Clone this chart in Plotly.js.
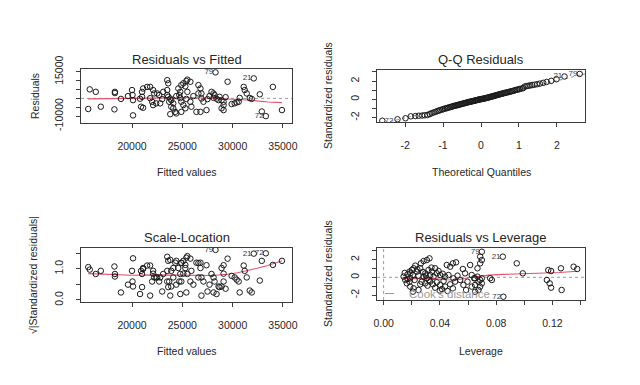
<!DOCTYPE html>
<html><head><meta charset="utf-8">
<script src="https://cdn.plot.ly/plotly-3.0.1.min.js"></script>
<style>html,body{margin:0;padding:0;background:#fff;}#chart{width:640px;height:385px;}</style>
</head><body><div id="chart"></div>
<script>
// ---------- data ----------
const fittedValues = [15800,16400,15650,16900,18300,18300,18250,18900,20100,20000,20050,20100,21000,21100,21500,21800,22100,22200,20800,21000,20900,21100,21800,22000,22100,22400,22800,22500,22700,23100,23500,23600,23500,23600,23500,23800,23900,23700,23900,24100,24300,24400,24100,24600,24800,24700,24900,25100,25400,25500,24800,24900,25100,25300,24900,25800,25300,25500,25400,25800,25900,26600,26800,26600,26900,26900,27100,26400,26800,27900,28100,28200,28100,28400,28600,28700,28900,29100,29100,28900,28300,29500,30200,30400,30600,30700,31100,31200,31400,31700,31900,32100,32700,34000,32900,33300,34900,27400,23800,29100,19600,23000,24400,26100,27500,27700,29300,29900];
const residuals = [5100,3700,-6000,-4700,3700,3000,-6200,-300,-9600,4700,1900,-1000,3700,5600,6500,6500,4700,2800,-200,900,-4700,-5300,100,-1900,-3800,-2800,-2800,2800,1900,3700,1900,900,10300,8500,4700,-100,-1000,-1900,-4700,-5600,-7600,-8500,-2800,5600,3700,1900,7500,8500,9800,10600,200,-1900,-3800,-5600,-7600,9400,6800,3700,-300,-1900,-4700,7500,5600,2800,2800,-100,-1900,-7600,-7600,3700,2800,1900,300,-200,-1000,900,-1000,-1900,-3800,-5600,14700,9400,-2800,-2300,-1900,300,6500,4700,2800,200,-300,11300,2300,6500,-7400,-10000,-6600,-6600,-8900,-6600,1300,-400,1300,1300,-400,1300,700,-3200];
const sqrtAbsStdResid = [0.97,0.83,1.05,0.93,0.83,0.75,1.07,0.24,1.33,0.93,0.59,0.43,0.83,1.02,1.10,1.10,0.93,0.72,0.19,0.41,0.93,0.99,0.14,0.59,0.84,0.72,0.72,0.72,0.59,0.83,0.59,0.41,1.38,1.25,0.93,0.14,0.43,0.59,0.93,1.02,1.19,1.25,0.72,1.02,0.83,0.59,1.18,1.25,1.35,1.40,0.19,0.59,0.84,1.02,1.19,1.32,1.12,0.83,0.24,0.59,0.93,1.18,1.02,0.72,0.72,0.14,0.59,1.19,1.19,0.83,0.72,0.59,0.24,0.19,0.43,0.41,0.43,0.59,0.84,1.02,1.60,1.32,0.72,0.65,0.59,0.24,1.10,0.93,0.72,0.30,0.24,1.48,0.62,1.12,1.25,1.49,1.25,1.11,1.28,1.11,0.49,0.27,0.49,0.49,0.27,0.49,0.36,0.77];
const labelIds = ["79","21","72"];
const labelIndexFitted = [80,91,95];

const rvfSmoothX = [15650,18000,20000,22000,24000,25500,27000,28500,30000,31500,32500,33500,34900];
const rvfSmoothY = [-300,-200,-200,0,300,500,300,0,-500,-900,-1500,-2000,-2400];
const slSmoothX = [15650,18000,20000,22000,24000,26000,28000,29500,30500,32000,33500,34900];
const slSmoothY = [0.84,0.81,0.79,0.80,0.80,0.79,0.78,0.82,0.87,0.98,1.10,1.25];

const qqTheoretical = [-2.60,-2.20,-1.99,-1.85,-1.73,-1.64,-1.55,-1.48,-1.41,-1.35,-1.30,-1.25,-1.20,-1.15,-1.11,-1.07,-1.02,-0.99,-0.95,-0.91,-0.88,-0.85,-0.81,-0.78,-0.75,-0.72,-0.69,-0.66,-0.63,-0.60,-0.58,-0.55,-0.52,-0.50,-0.47,-0.44,-0.42,-0.39,-0.37,-0.34,-0.32,-0.29,-0.27,-0.25,-0.22,-0.20,-0.17,-0.15,-0.13,-0.10,-0.08,-0.06,-0.03,-0.01,
0.01,0.03,0.06,0.08,0.10,0.13,0.15,0.17,0.20,0.22,0.25,0.27,0.29,0.32,0.34,0.37,0.39,0.42,0.44,0.47,0.50,0.52,0.55,0.58,0.60,0.63,0.66,0.69,0.72,0.75,0.78,0.81,0.85,0.88,0.91,0.95,0.99,1.02,1.07,1.11,1.15,1.20,1.25,1.30,1.35,1.41,1.48,1.55,1.64,1.73,1.85,1.99,2.20,2.60];
const qqSample = [-2.35,-2.19,-2.08,-1.87,-1.84,-1.80,-1.78,-1.75,-1.72,-1.62,-1.52,-1.45,-1.38,-1.30,-1.24,-1.18,-1.12,-1.07,-1.02,-0.98,-0.94,-0.90,-0.86,-0.82,-0.78,-0.74,-0.71,-0.68,-0.65,-0.62,-0.59,-0.56,-0.53,-0.50,-0.47,-0.44,-0.41,-0.38,-0.35,-0.33,-0.30,-0.28,-0.25,-0.23,-0.21,-0.18,-0.16,-0.13,-0.11,-0.08,-0.06,-0.03,-0.01,0.01,
0.02,0.04,0.06,0.08,0.10,0.13,0.15,0.18,0.20,0.23,0.26,0.28,0.31,0.34,0.37,0.40,0.43,0.46,0.49,0.52,0.55,0.58,0.61,0.64,0.67,0.70,0.73,0.76,0.79,0.82,0.85,0.89,0.93,0.97,1.01,1.05,1.09,1.13,1.18,1.22,1.40,1.44,1.48,1.52,1.56,1.60,1.65,1.72,1.80,1.90,2.02,2.20,2.50,2.78];
const qqLabelIndex = [107,106,0];
const qqLineX = [-3,3];
const qqLineY = [-3.05,3.05];

const leverage = [0.0698,0.0847,0.0851,
0.0142,0.0154,0.0165,0.0170,0.0184,0.0189,0.0184,0.0201,0.0208,0.0213,0.0225,0.0236,0.0248,0.0260,0.0265,0.0284,0.0307,0.0326,
0.0189,0.0213,0.0208,0.0248,0.0260,
0.0284,0.0296,0.0307,0.0319,0.0331,0.0343,0.0355,0.0366,0.0378,0.0390,0.0402,
0.0296,0.0312,0.0331,0.0350,0.0366,0.0378,0.0402,0.0414,0.0426,0.0437,0.0454,0.0473,0.0492,0.0508,
0.0449,0.0473,0.0492,0.0515,
0.0437,0.0461,0.0496,0.0525,0.0544,
0.0563,0.0579,0.0567,0.0586,0.0596,
0.0615,0.0626,0.0643,0.0667,0.0626,0.0650,
0.0686,0.0698,0.0686,0.0667,
0.0650,0.0686,0.0698,0.0674,0.0698,0.0686,0.0674,0.0650,
0.0757,0.0769,
0.0946,0.0989,0.117,0.119,0.116,0.118,0.119,0.126,0.1265,0.135,0.1376,
0.015,0.017,0.019,0.022,0.024,0.027,0.028,0.030,0.032,0.034,0.040,0.042];
const levStdResid = [2.89,2.33,-2.19,
0.08,-0.30,-0.68,0.34,0.64,-0.11,-0.49,0.83,0.26,1.02,1.32,0.64,0.19,1.02,1.58,1.84,1.95,2.14,
-1.05,-1.24,-1.62,-1.43,-0.79,
0.08,0.45,-0.11,0.83,0.26,0.64,0.08,1.02,0.45,0.71,0.26,
-0.68,-0.94,-0.49,-0.79,-1.17,-0.56,-0.86,-1.32,-0.41,-1.05,-1.54,-0.79,-1.24,-0.49,
1.39,1.20,1.58,1.69,
0.08,0.26,-0.11,0.19,-0.30,
0.94,0.45,-0.86,-1.43,-0.49,
1.39,0.26,-0.11,0.08,-1.05,-0.86,
2.33,1.95,1.58,1.02,
-0.11,-0.30,-0.11,-0.50,-0.68,-1.06,-1.43,-1.63,
-0.10,-0.30,
1.58,0.45,0.82,0.71,-0.30,-0.68,-1.17,1.02,-1.43,1.20,0.94,
0.50,-0.20,0.45,-0.30,0.90,-0.50,0.60,0.20,-0.30,1.10,-1.50,0.40];
const levLabelIndex = [0,1,2];
const rvlSmoothX = [0.0142,0.025,0.035,0.045,0.052,0.060,0.068,0.075,0.085,0.100,0.115,0.125,0.1376];
const rvlSmoothY = [-0.15,-0.12,-0.15,-0.28,-0.30,-0.05,0.15,0.25,0.33,0.40,0.45,0.55,0.68];

// ---------- styling ----------
const W = 640, H = 385;
const fx = p => p / W;
const fy = p => 1 - p / H;
const FONT = "Liberation Sans, Arial, sans-serif";
const INK = "#262626";
const RED = "#DF536B";
const GREY = "#9a9a9a";

const pts = (x, y, xa, ya) => ({
  type: "scatter", mode: "markers", x: x, y: y, xaxis: xa, yaxis: ya,
  marker: {symbol: "circle-open", size: 5.5, color: "#1a1a1a", line: {width: 1, color: "#1a1a1a"}},
  hoverinfo: "skip", cliponaxis: true
});
const line = (x, y, xa, ya, color, dash) => ({
  type: "scatter", mode: "lines", x: x, y: y, xaxis: xa, yaxis: ya,
  line: {color: color, width: 1.1, dash: dash || "solid"}, hoverinfo: "skip"
});
// pad the label text so the id sits clear of its point, as R's offset does
const padLeft = labelIds.map(s => s + "\u00a0");
const padRight = labelIds.map(s => "\u00a0" + s);
const labels = (x, y, xa, ya, pos) => ({
  type: "scatter", mode: "text", x: x, y: y, xaxis: xa, yaxis: ya,
  text: Array.isArray(pos) ? pos.map((p, i) => p === "middle right" ? padRight[i] : padLeft[i]) : padLeft,
  textposition: pos,
  textfont: {family: FONT, size: 8, color: "#3a3a3a"}, hoverinfo: "skip", cliponaxis: false
});

const pick = (arr, idx) => idx.map(i => arr[i]);

const data = [
  line(rvfSmoothX, rvfSmoothY, "x", "y", RED),
  pts(fittedValues, residuals, "x", "y"),
  labels(pick(fittedValues, labelIndexFitted), pick(residuals, labelIndexFitted), "x", "y", "middle left"),

  line(qqLineX, qqLineY, "x2", "y2", GREY, "dot"),
  pts(qqTheoretical, qqSample, "x2", "y2"),
  labels(pick(qqTheoretical, qqLabelIndex), pick(qqSample, qqLabelIndex), "x2", "y2",
         ["middle left", "middle left", "middle right"]),

  line(slSmoothX, slSmoothY, "x3", "y3", RED),
  pts(fittedValues, sqrtAbsStdResid, "x3", "y3"),
  labels(pick(fittedValues, labelIndexFitted), pick(sqrtAbsStdResid, labelIndexFitted), "x3", "y3", "middle left"),

  line(rvlSmoothX, rvlSmoothY, "x4", "y4", RED),
  pts(leverage, levStdResid, "x4", "y4"),
  labels(pick(leverage, levLabelIndex), pick(levStdResid, levLabelIndex), "x4", "y4", "middle left")
];

const tickFont = {family: FONT, size: 10.5, color: INK};
function ax(domain, range, anchor, tickvals, ticktext, isY) {
  return {
    domain: domain, range: range, anchor: anchor,
    showline: true, mirror: true, linecolor: "#3c3c3c", linewidth: 1,
    ticks: "outside", ticklen: 4, tickwidth: 1, tickcolor: "#3c3c3c",
    tickvals: tickvals, ticktext: ticktext, tickfont: tickFont,
    tickangle: isY ? -90 : 0, ticklabelstandoff: 9,
    showgrid: false, zeroline: false, automargin: false, fixedrange: true
  };
}

const fitTicks = [20000, 25000, 30000, 35000];
const fitText = ["20000", "25000", "30000", "35000"];

const layout = {
  width: W, height: H,
  margin: {l: 0, r: 0, t: 0, b: 0},
  paper_bgcolor: "#ffffff", plot_bgcolor: "#ffffff",
  showlegend: false,
  font: {family: FONT, color: INK},
  xaxis: ax([fx(81), fx(292)], [14930, 35900], "y", fitTicks, fitText, false),
  yaxis: ax([fy(123), fy(69)], [-13900, 16600], "x",
            [-10000, -5000, 0, 5000, 10000, 15000], ["-10000", "", "", "", "", "15000"], true),
  xaxis2: ax([fx(377), fx(585)], [-2.74, 2.74], "y2", [-2, -1, 0, 1, 2], ["-2", "-1", "0", "1", "2"], false),
  yaxis2: ax([fy(122), fy(70)], [-2.49, 3.21], "x2", [-2, -1, 0, 1, 2, 3], ["-2", "", "0", "", "2", ""], true),
  xaxis3: ax([fx(81), fx(292)], [14930, 35900], "y3", fitTicks, fitText, false),
  yaxis3: ax([fy(302), fy(248)], [-0.065, 1.66], "x3", [0, 0.5, 1, 1.5], ["0.0", "", "1.0", ""], true),
  xaxis4: ax([fx(377), fx(585)], [-0.0047, 0.1431], "y4",
             [0, 0.02, 0.04, 0.06, 0.08, 0.10, 0.12, 0.14], ["0.00", "", "0.04", "", "0.08", "", "0.12", ""], false),
  yaxis4: ax([fy(300), fy(248)], [-2.56, 3.31], "x4", [-2, -1, 0, 1, 2, 3], ["-2", "", "0", "", "2", ""], true),
  shapes: [
    {type: "line", xref: "x domain", x0: 0, x1: 1, yref: "y", y0: 0, y1: 0, layer: "below",
     line: {color: GREY, width: 1, dash: "dot"}},
    {type: "line", xref: "x4 domain", x0: 0, x1: 1, yref: "y4", y0: 0, y1: 0, layer: "below",
     line: {color: GREY, width: 1, dash: "dot"}},
    {type: "line", xref: "x4", x0: 0, x1: 0, yref: "y4 domain", y0: 0, y1: 1, layer: "below",
     line: {color: GREY, width: 1, dash: "dot"}},
    {type: "line", xref: "paper", x0: fx(385), x1: fx(402), yref: "paper", y0: fy(293.5), y1: fy(293.5),
     line: {color: GREY, width: 1, dash: "dash"}}
  ],
  annotations: []
};

function txt(text, x, y, size, angle) {
  return {text: text, xref: "paper", yref: "paper", x: fx(x), y: fy(y),
          xanchor: "center", yanchor: "middle", showarrow: false, textangle: angle || 0,
          font: {family: FONT, size: size, color: INK}};
}
layout.annotations.push(
  txt("Residuals vs Fitted", 186.5, 59.5, 13),
  txt("Q-Q Residuals", 481, 59.5, 13),
  txt("Scale-Location", 186.5, 237, 13),
  txt("Residuals vs Leverage", 481, 237, 13),
  txt("Fitted values", 186.5, 172, 10.5),
  txt("Theoretical Quantiles", 481, 172, 10.5),
  txt("Fitted values", 186.5, 351, 10.5),
  txt("Leverage", 481, 351, 10.5),
  txt("Residuals", 35, 96, 10.5, -90),
  txt("Standardized residuals", 328, 96, 10.5, -90),
  txt("\u221A|Standardized residuals|", 33, 275, 10.5, -90),
  txt("Standardized residuals", 328, 274, 10.5, -90),
  {text: "Cook's distance", xref: "paper", yref: "paper", x: fx(407), y: fy(293.5),
   xanchor: "left", yanchor: "middle", showarrow: false,
   font: {family: FONT, size: 11.5, color: GREY}}
);

Plotly.newPlot("chart", data, layout, {displayModeBar: false, staticPlot: true});
</script>
</body></html>
